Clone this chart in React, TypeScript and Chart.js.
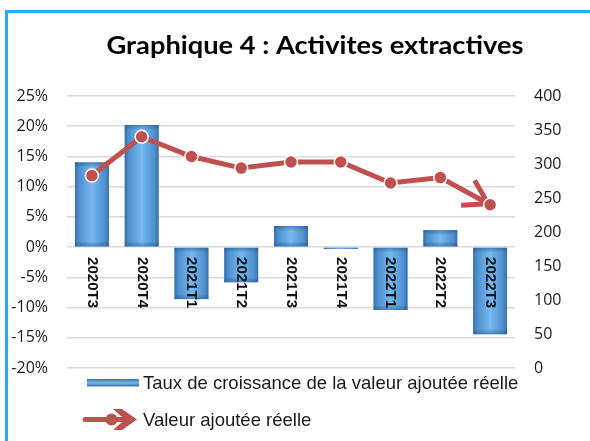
import React, { useEffect, useRef } from "react";
import { Chart, registerables } from "chart.js";

Chart.register(...registerables);

const categories = ["2020T3", "2020T4", "2021T1", "2021T2", "2021T3", "2021T4", "2022T1", "2022T2", "2022T3"];
const growthRates = [14.0, 20.2, -8.6, -5.8, 3.5, -0.3, -10.4, 2.8, -14.4];
const realValueAdded = [283, 340, 311, 294, 303, 303, 272, 280, 240];
const titleText = "Graphique 4 : Activites extractives";
const barLabel = "Taux de croissance de la valeur ajoutée réelle";
const lineLabel = "Valeur ajoutée réelle";

const RED = "#C0504D";
const FRAME = "#1CB0F0";

function blueGradient(ctx: CanvasRenderingContext2D, left: number, width: number) {
  const g = ctx.createLinearGradient(left, 0, left + width, 0);
  g.addColorStop(0, "#3770A8");
  g.addColorStop(0.12, "#4E90CF");
  g.addColorStop(0.5, "#74B8F0");
  g.addColorStop(0.88, "#4E90CF");
  g.addColorStop(1, "#3770A8");
  return g;
}

function drawArrowArms(ctx: CanvasRenderingContext2D, tipX: number, tipY: number, angle: number, len: number, spread: number) {
  ctx.beginPath();
  ctx.moveTo(tipX - len * Math.cos(angle - spread), tipY - len * Math.sin(angle - spread));
  ctx.lineTo(tipX, tipY);
  ctx.lineTo(tipX - len * Math.cos(angle + spread), tipY - len * Math.sin(angle + spread));
  ctx.stroke();
}

const framePlugin = {
  id: "frame",
  beforeDraw(chart: any) {
    const ctx = chart.ctx;
    ctx.save();
    ctx.fillStyle = "#FFFFFF";
    ctx.fillRect(0, 0, chart.width, chart.height);
    ctx.strokeStyle = FRAME;
    ctx.lineWidth = 3;
    ctx.beginPath();
    ctx.moveTo(6.5, chart.height + 2);
    ctx.lineTo(6.5, 11.5);
    ctx.lineTo(chart.width + 2, 11.5);
    ctx.stroke();
    ctx.restore();
  },
};

const barShadePlugin = {
  id: "barShade",
  afterDatasetDraw(chart: any, args: any) {
    if (args.index !== 0) return;
    const ctx = chart.ctx;
    const area = chart.chartArea;
    ctx.save();
    ctx.beginPath();
    ctx.rect(area.left, area.top, area.right - area.left, area.bottom - area.top);
    ctx.clip();
    args.meta.data.forEach((el: any) => {
      const p = el.getProps(["x", "y", "base", "width"], true);
      const left = p.x - p.width / 2;
      const top = Math.min(p.y, p.base);
      const h = Math.abs(p.base - p.y);
      if (h < 0.5) return;
      ctx.fillStyle = blueGradient(ctx, left, p.width);
      ctx.fillRect(left, top, p.width, h);
      const vg = ctx.createLinearGradient(0, top, 0, top + h);
      const edge = Math.min(0.5, 5 / h);
      vg.addColorStop(0, "rgba(30,70,120,0.45)");
      vg.addColorStop(edge, "rgba(30,70,120,0)");
      vg.addColorStop(1 - edge, "rgba(30,70,120,0)");
      vg.addColorStop(1, "rgba(30,70,120,0.45)");
      ctx.fillStyle = vg;
      ctx.fillRect(left, top, p.width, h);
    });
    ctx.restore();
  },
};

const arrowPlugin = {
  id: "arrowHead",
  beforeDatasetDraw(chart: any, args: any) {
    if (args.index !== 1) return;
    const pts = args.meta.data;
    if (pts.length < 2) return;
    const a = pts[pts.length - 2];
    const b = pts[pts.length - 1];
    const angle = Math.atan2(b.y - a.y, b.x - a.x);
    const ctx = chart.ctx;
    ctx.save();
    ctx.strokeStyle = RED;
    ctx.lineWidth = 5;
    ctx.lineJoin = "miter";
    ctx.lineCap = "butt";
    drawArrowArms(ctx, b.x - 2, b.y - 1, angle, 27, 0.55);
    ctx.restore();
  },
};

const xLabelPlugin = {
  id: "xLabels",
  afterDatasetsDraw(chart: any) {
    const ctx = chart.ctx;
    const xs = chart.scales.x;
    const y0 = chart.scales.y.getPixelForValue(0);
    ctx.save();
    ctx.fillStyle = "#111111";
    ctx.font = "bold 15px 'Liberation Sans', Arial, sans-serif";
    ctx.textAlign = "left";
    ctx.textBaseline = "middle";
    categories.forEach((c, i) => {
      const x = xs.getPixelForValue(i);
      ctx.save();
      ctx.translate(x, y0 + 10);
      ctx.rotate(Math.PI / 2);
      ctx.fillText(c, 0, 0);
      ctx.restore();
    });
    ctx.restore();
  },
};

const titleLegendPlugin = {
  id: "titleLegend",
  afterDraw(chart: any) {
    const ctx = chart.ctx;
    ctx.save();
    ctx.fillStyle = "#000000";
    ctx.font = "bold 24.5px Lato, 'Open Sans', sans-serif";
    ctx.textAlign = "center";
    ctx.textBaseline = "alphabetic";
    const w = ctx.measureText(titleText).width;
    const sx = 417 / w;
    ctx.save();
    ctx.translate(315, 53.5);
    ctx.scale(sx, 1);
    ctx.fillText(titleText, 0, 0);
    ctx.restore();

    // legend item 1: bar symbol
    const sg = ctx.createLinearGradient(0, 379, 0, 386.5);
    sg.addColorStop(0, "#3770A8");
    sg.addColorStop(0.5, "#74B8F0");
    sg.addColorStop(1, "#3770A8");
    ctx.fillStyle = sg;
    ctx.fillRect(87, 379, 52, 7.5);

    ctx.fillStyle = "#1A1A1A";
    ctx.font = "18.5px 'Liberation Sans', Arial, sans-serif";
    ctx.textAlign = "left";
    ctx.textBaseline = "alphabetic";
    ctx.fillText(barLabel, 143, 388.5);

    // legend item 2: line symbol with arrow
    ctx.strokeStyle = RED;
    ctx.lineWidth = 5;
    ctx.lineCap = "round";
    ctx.beginPath();
    ctx.moveTo(85, 419.5);
    ctx.lineTo(126, 419.5);
    ctx.stroke();
    ctx.fillStyle = RED;
    ctx.beginPath();
    ctx.moveTo(113, 409);
    ctx.lineTo(122, 409);
    ctx.lineTo(137, 419.5);
    ctx.lineTo(122, 430);
    ctx.lineTo(113, 430);
    ctx.lineTo(125, 419.5);
    ctx.closePath();
    ctx.fill();
    ctx.beginPath();
    ctx.arc(111.5, 419.5, 6, 0, Math.PI * 2);
    ctx.fill();
    ctx.fillStyle = "#1A1A1A";
    ctx.fillText(lineLabel, 143, 426);
    ctx.restore();
  },
};

export default function App() {
  const ref = useRef<HTMLCanvasElement | null>(null);
  useEffect(() => {
    if (!ref.current) return;
    const tickFont = { family: "'Open Sans', Lato, sans-serif", size: 16 };
    const chart = new Chart(ref.current, {
      type: "bar",
      data: {
        labels: categories,
        datasets: [
          {
            type: "bar",
            label: barLabel,
            data: growthRates,
            yAxisID: "y",
            backgroundColor: "#5B9BD5",
            borderWidth: 0,
            barPercentage: 0.68,
            categoryPercentage: 1,
            order: 2,
          },
          {
            type: "line",
            label: lineLabel,
            data: realValueAdded,
            yAxisID: "y1",
            borderColor: RED,
            borderWidth: 5,
            backgroundColor: RED,
            pointBackgroundColor: RED,
            pointBorderColor: "#FFFFFF",
            pointBorderWidth: 1.5,
            pointRadius: 6.5,
            tension: 0,
            order: 1,
          } as any,
        ],
      },
      options: {
        responsive: false,
        animation: false,
        devicePixelRatio: 1,
        layout: { padding: { top: 96, bottom: 73, left: 0, right: 0 } },
        plugins: {
          legend: { display: false },
          title: { display: false },
          tooltip: { enabled: false },
        },
        scales: {
          x: { display: false, offset: true },
          y: {
            position: "left",
            min: -20,
            max: 25,
            ticks: { stepSize: 5, padding: 19, color: "#1A1A1A", font: tickFont, callback: (v: any) => v + "%" },
            grid: { color: "#D9D9D9", lineWidth: 1.5, drawTicks: false },
            border: { display: false },
            afterFit: (s: any) => { s.width = 67; },
          },
          y1: {
            position: "right",
            min: 0,
            max: 400,
            ticks: { stepSize: 50, padding: 19, color: "#1A1A1A", font: tickFont },
            grid: { display: false, drawTicks: false },
            border: { display: false },
            afterFit: (s: any) => { s.width = 75; },
          },
        },
      },
      plugins: [framePlugin, barShadePlugin, arrowPlugin, xLabelPlugin, titleLegendPlugin],
    });
    return () => chart.destroy();
  }, []);
  return (
    <div style={{ position: "absolute", left: 0, top: 0, width: 590, height: 441 }}>
      <canvas ref={ref} width={590} height={441} style={{ display: "block" }} />
    </div>
  );
}
